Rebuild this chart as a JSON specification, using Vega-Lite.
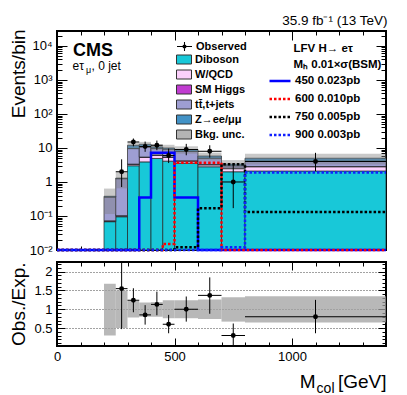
{
  "$schema": "https://vega.github.io/schema/vega-lite/v6.json",
  "autosize": {"type": "none"},
  "padding": {"left": 57, "top": 31, "right": 350, "bottom": 364},
  "bounds": "flush",
  "spacing": 12,
  "config": {
    "font": "Liberation Sans",
    "view": {"stroke": "black", "strokeWidth": 2},
    "axis": {
      "domain": false, "grid": false, "tickColor": "black", "tickWidth": 1,
      "labelFont": "Liberation Sans", "labelFontSize": 13, "labelColor": "black",
      "titleFont": "Liberation Sans", "titleColor": "black", "titleFontWeight": "normal",
      "zindex": 1, "labelFlush": false, "labelOverlap": false
    },
    "legend": {"labelFont": "Liberation Sans", "titleFont": "Liberation Sans", "padding": 0, "labelColor": "black", "titleColor": "black",
      "labelFontSize": 11, "labelFontWeight": "bold"}
  },
  "datasets": {
    "stack": [
      {"xlo": 200, "xhi": 250, "proc": "Diboson", "ylo": 0.001, "yhi": 0.068},
      {"xlo": 250, "xhi": 300, "proc": "Diboson", "ylo": 0.001, "yhi": 0.095},
      {"xlo": 300, "xhi": 350, "proc": "Diboson", "ylo": 0.001, "yhi": 3.0},
      {"xlo": 350, "xhi": 400, "proc": "Diboson", "ylo": 0.001, "yhi": 3.9},
      {"xlo": 400, "xhi": 450, "proc": "Diboson", "ylo": 0.001, "yhi": 4.9},
      {"xlo": 450, "xhi": 500, "proc": "Diboson", "ylo": 0.001, "yhi": 4.1},
      {"xlo": 500, "xhi": 600, "proc": "Diboson", "ylo": 0.001, "yhi": 3.6},
      {"xlo": 600, "xhi": 700, "proc": "Diboson", "ylo": 0.001, "yhi": 2.8},
      {"xlo": 700, "xhi": 800, "proc": "Diboson", "ylo": 0.001, "yhi": 2.0},
      {"xlo": 800, "xhi": 1400, "proc": "Diboson", "ylo": 0.001, "yhi": 2.1},
      {"xlo": 200, "xhi": 250, "proc": "W/QCD", "ylo": 0.068, "yhi": 0.071},
      {"xlo": 250, "xhi": 300, "proc": "W/QCD", "ylo": 0.095, "yhi": 0.1},
      {"xlo": 300, "xhi": 350, "proc": "W/QCD", "ylo": 3.0, "yhi": 3.3},
      {"xlo": 350, "xhi": 400, "proc": "W/QCD", "ylo": 3.9, "yhi": 5.3},
      {"xlo": 400, "xhi": 450, "proc": "W/QCD", "ylo": 4.9, "yhi": 6.1},
      {"xlo": 450, "xhi": 500, "proc": "W/QCD", "ylo": 4.1, "yhi": 5.3},
      {"xlo": 500, "xhi": 600, "proc": "W/QCD", "ylo": 3.6, "yhi": 4.1},
      {"xlo": 600, "xhi": 700, "proc": "W/QCD", "ylo": 2.8, "yhi": 3.2},
      {"xlo": 700, "xhi": 800, "proc": "W/QCD", "ylo": 2.0, "yhi": 2.5},
      {"xlo": 800, "xhi": 1400, "proc": "W/QCD", "ylo": 2.1, "yhi": 2.8},
      {"xlo": 200, "xhi": 250, "proc": "SM Higgs", "ylo": 0.071, "yhi": 0.072},
      {"xlo": 250, "xhi": 300, "proc": "SM Higgs", "ylo": 0.1, "yhi": 0.102},
      {"xlo": 300, "xhi": 350, "proc": "SM Higgs", "ylo": 3.3, "yhi": 3.35},
      {"xlo": 350, "xhi": 400, "proc": "SM Higgs", "ylo": 5.3, "yhi": 5.4},
      {"xlo": 400, "xhi": 450, "proc": "SM Higgs", "ylo": 6.1, "yhi": 6.2},
      {"xlo": 450, "xhi": 500, "proc": "SM Higgs", "ylo": 5.3, "yhi": 5.4},
      {"xlo": 500, "xhi": 600, "proc": "SM Higgs", "ylo": 4.1, "yhi": 4.2},
      {"xlo": 600, "xhi": 700, "proc": "SM Higgs", "ylo": 3.2, "yhi": 3.25},
      {"xlo": 700, "xhi": 800, "proc": "SM Higgs", "ylo": 2.5, "yhi": 2.55},
      {"xlo": 800, "xhi": 1400, "proc": "SM Higgs", "ylo": 2.8, "yhi": 2.85},
      {"xlo": 200, "xhi": 250, "proc": "tt̄,t+jets", "ylo": 0.072, "yhi": 0.36},
      {"xlo": 250, "xhi": 300, "proc": "tt̄,t+jets", "ylo": 0.102, "yhi": 1.25},
      {"xlo": 300, "xhi": 350, "proc": "tt̄,t+jets", "ylo": 3.35, "yhi": 9.6},
      {"xlo": 350, "xhi": 400, "proc": "tt̄,t+jets", "ylo": 5.4, "yhi": 10.8},
      {"xlo": 400, "xhi": 450, "proc": "tt̄,t+jets", "ylo": 6.2, "yhi": 9.8},
      {"xlo": 450, "xhi": 500, "proc": "tt̄,t+jets", "ylo": 5.4, "yhi": 9.2},
      {"xlo": 500, "xhi": 600, "proc": "tt̄,t+jets", "ylo": 4.2, "yhi": 7.9},
      {"xlo": 600, "xhi": 700, "proc": "tt̄,t+jets", "ylo": 3.25, "yhi": 5.0},
      {"xlo": 700, "xhi": 800, "proc": "tt̄,t+jets", "ylo": 2.55, "yhi": 3.0},
      {"xlo": 800, "xhi": 1400, "proc": "tt̄,t+jets", "ylo": 2.85, "yhi": 4.1},
      {"xlo": 200, "xhi": 250, "proc": "Z→ee/μμ", "ylo": 0.36, "yhi": 0.38},
      {"xlo": 250, "xhi": 300, "proc": "Z→ee/μμ", "ylo": 1.25, "yhi": 1.3},
      {"xlo": 300, "xhi": 350, "proc": "Z→ee/μμ", "ylo": 9.6, "yhi": 12.0},
      {"xlo": 350, "xhi": 400, "proc": "Z→ee/μμ", "ylo": 10.8, "yhi": 12.8},
      {"xlo": 400, "xhi": 450, "proc": "Z→ee/μμ", "ylo": 9.8, "yhi": 10.8},
      {"xlo": 450, "xhi": 500, "proc": "Z→ee/μμ", "ylo": 9.2, "yhi": 10.0},
      {"xlo": 500, "xhi": 600, "proc": "Z→ee/μμ", "ylo": 7.9, "yhi": 9.0},
      {"xlo": 600, "xhi": 700, "proc": "Z→ee/μμ", "ylo": 5.0, "yhi": 5.8},
      {"xlo": 700, "xhi": 800, "proc": "Z→ee/μμ", "ylo": 3.0, "yhi": 3.35},
      {"xlo": 800, "xhi": 1400, "proc": "Z→ee/μμ", "ylo": 4.1, "yhi": 5.0}
    ],
    "bins": [
      {"xlo": 200, "xhi": 250, "unclo": 0.114, "unchi": 0.64, "rlo": 0.3, "rhi": 1.68},
      {"xlo": 250, "xhi": 300, "unclo": 0.65, "unchi": 1.95, "rlo": 0.5, "rhi": 1.5},
      {"xlo": 300, "xhi": 350, "unclo": 9.4, "unchi": 14.6, "rlo": 0.78, "rhi": 1.22},
      {"xlo": 350, "xhi": 400, "unclo": 10.2, "unchi": 15.1, "rlo": 0.8, "rhi": 1.18},
      {"xlo": 400, "xhi": 450, "unclo": 8.6, "unchi": 12.9, "rlo": 0.8, "rhi": 1.19},
      {"xlo": 450, "xhi": 500, "unclo": 7.6, "unchi": 12.4, "rlo": 0.76, "rhi": 1.24},
      {"xlo": 500, "xhi": 600, "unclo": 6.8, "unchi": 11.2, "rlo": 0.76, "rhi": 1.24},
      {"xlo": 600, "xhi": 700, "unclo": 4.3, "unchi": 7.3, "rlo": 0.74, "rhi": 1.26},
      {"xlo": 700, "xhi": 800, "unclo": 2.25, "unchi": 4.4, "rlo": 0.67, "rhi": 1.32},
      {"xlo": 800, "xhi": 1400, "unclo": 3.25, "unchi": 6.75, "rlo": 0.65, "rhi": 1.35}
    ],
    "obs": [
      {"x": 275, "xlo": 250, "xhi": 300, "n": 2, "nlo": 0.71, "nhi": 4.64, "r": 1.55, "rlo": 0.47, "rhi": 2.6},
      {"x": 325, "xlo": 300, "xhi": 350, "n": 15, "nlo": 11.2, "nhi": 19.0, "r": 1.24, "rlo": 0.92, "rhi": 1.56},
      {"x": 375, "xlo": 350, "xhi": 400, "n": 11, "nlo": 7.7, "nhi": 15.4, "r": 0.85, "rlo": 0.59, "rhi": 1.11},
      {"x": 425, "xlo": 400, "xhi": 450, "n": 12, "nlo": 8.6, "nhi": 16.5, "r": 1.13, "rlo": 0.84, "rhi": 1.47},
      {"x": 475, "xlo": 450, "xhi": 500, "n": 6, "nlo": 3.6, "nhi": 9.6, "r": 0.6, "rlo": 0.36, "rhi": 0.85},
      {"x": 550, "xlo": 500, "xhi": 600, "n": 9, "nlo": 6.1, "nhi": 13.2, "r": 1.0, "rlo": 0.67, "rhi": 1.34},
      {"x": 650, "xlo": 600, "xhi": 700, "n": 8, "nlo": 5.2, "nhi": 12.0, "r": 1.37, "rlo": 0.88, "rhi": 1.85},
      {"x": 750, "xlo": 700, "xhi": 800, "n": 1, "nlo": 0.17, "nhi": 3.3, "r": 0.3, "rlo": 0.0, "rhi": 0.62},
      {"x": 1100, "xlo": 800, "xhi": 1400, "n": 4, "nlo": 2.1, "nhi": 7.2, "r": 0.8, "rlo": 0.36, "rhi": 1.25}
    ],
    "sig": [
      {"sig": "450", "x": 0, "y": 0.001}, {"sig": "450", "x": 350, "y": 0.35}, {"sig": "450", "x": 400, "y": 7.2},
      {"sig": "450", "x": 500, "y": 0.35}, {"sig": "450", "x": 600, "y": 0.001}, {"sig": "450", "x": 1400, "y": 0.001},
      {"sig": "600", "x": 0, "y": 0.001}, {"sig": "600", "x": 450, "y": 0.015}, {"sig": "600", "x": 500, "y": 3.7},
      {"sig": "600", "x": 700, "y": 0.001}, {"sig": "600", "x": 1400, "y": 0.001},
      {"sig": "750", "x": 0, "y": 0.001}, {"sig": "750", "x": 500, "y": 0.012}, {"sig": "750", "x": 600, "y": 0.17},
      {"sig": "750", "x": 700, "y": 3.3}, {"sig": "750", "x": 800, "y": 0.13}, {"sig": "750", "x": 1400, "y": 0.13},
      {"sig": "900", "x": 0, "y": 0.001}, {"sig": "900", "x": 700, "y": 0.012}, {"sig": "900", "x": 800, "y": 1.9},
      {"sig": "900", "x": 1400, "y": 1.9}
    ]
  },
  "vconcat": [
    {
      "width": 329,
      "height": 219,
      "layer": [
        {
          "data": {"name": "stack"},
          "mark": {"type": "rect", "stroke": "#222222", "strokeWidth": 0.7},
          "encoding": {
            "x": {"field": "xlo", "type": "quantitative", "scale": {"domain": [0, 1400], "nice": false},
              "axis": {"orient": "bottom", "values": [0, 500, 1000], "offset": -9, "tickSize": 9, "labels": false, "title": null}},
            "x2": {"field": "xhi"},
            "y": {"field": "ylo", "type": "quantitative", "scale": {"type": "log", "domain": [0.01, 27500], "nice": false, "clamp": true},
              "axis": {"orient": "left", "values": [0.01, 0.1, 1, 10, 100, 1000, 10000], "offset": -10, "tickSize": 10, "labelPadding": 5,
                "labelExpr": "datum.value < 0.05 ? '10⁻²' : datum.value < 0.5 ? '10⁻¹' : datum.value < 5 ? '1' : datum.value < 50 ? '10' : datum.value < 500 ? '10²' : datum.value < 5000 ? '10³' : '10⁴'",
                "title": "Events/bin", "titleX": -43, "titleY": -2, "titleAngle": -90, "titleAlign": "right", "titleBaseline": "alphabetic", "titleFontSize": 19}},
            "y2": {"field": "yhi"},
            "fill": {"field": "proc", "type": "nominal",
              "scale": {"domain": ["Diboson", "W/QCD", "SM Higgs", "tt̄,t+jets", "Z→ee/μμ", "Bkg. unc."],
                "range": ["#18c8d8", "#fcd0fc", "#c03cd0", "#9e9ed2", "#4292c6", "#b4b4b4"]},
              "legend": {"orient": "none", "legendX": 119, "legendY": 20.5, "title": null, "symbolSize": 225,
                "symbolType": "M-1,-0.6H1V0.6H-1Z", "symbolStrokeColor": "#333333", "symbolStrokeWidth": 1, "symbolOpacity": 1,
                "labelOffset": 3, "rowPadding": -6.5}}
          }
        },
        {
          "data": {"name": "bins"},
          "mark": {"type": "rect", "fill": "#7f7f7f", "fillOpacity": 0.42},
          "encoding": {
            "x": {"field": "xlo", "type": "quantitative", "scale": {"domain": [0, 1400], "nice": false},
              "axis": {"orient": "bottom", "values": [100, 200, 300, 400, 600, 700, 800, 900, 1100, 1200, 1300], "offset": -4, "tickSize": 4, "labels": false,
                "title": "LFV H→ eτ", "titleX": 236, "titleY": -195, "titleAngle": 0, "titleAlign": "left", "titleBaseline": "alphabetic", "titleFontSize": 11.5, "titleFontWeight": "bold"}},
            "x2": {"field": "xhi"},
            "y": {"field": "unclo", "type": "quantitative", "scale": {"type": "log", "domain": [0.01, 27500], "nice": false, "clamp": true},
              "axis": {"orient": "left", "values": [0.02, 0.03, 0.04, 0.05, 0.06, 0.07, 0.08, 0.09, 0.2, 0.3, 0.4, 0.5, 0.6, 0.7, 0.8, 0.9, 2, 3, 4, 5, 6, 7, 8, 9, 20, 30, 40, 50, 60, 70, 80, 90, 200, 300, 400, 500, 600, 700, 800, 900, 2000, 3000, 4000, 5000, 6000, 7000, 8000, 9000, 20000],
                "offset": -5, "tickSize": 5, "labels": false, "title": null}},
            "y2": {"field": "unchi"}
          }
        },
        {
          "data": {"name": "sig"},
          "mark": {"type": "line", "interpolate": "step-after", "strokeWidth": 2.5},
          "encoding": {
            "x": {"field": "x", "type": "quantitative", "scale": {"domain": [0, 1400], "nice": false},
              "axis": {"orient": "top", "values": [0, 500, 1000], "offset": -9, "tickSize": 9, "labels": false,
                "title": "Mₕ   0.01×σ(BSM)", "titleX": 236, "titleY": 27, "titleAngle": 0, "titleAlign": "left", "titleBaseline": "alphabetic", "titleFontSize": 11.5, "titleFontWeight": "bold"}},
            "y": {"field": "y", "type": "quantitative", "scale": {"type": "log", "domain": [0.01, 27500], "nice": false, "clamp": true},
              "axis": {"orient": "right", "values": [0.01, 0.1, 1, 10, 100, 1000, 10000], "offset": -10, "tickSize": 10, "labels": false, "title": null}},
            "stroke": {"field": "sig", "type": "nominal",
              "scale": {"domain": ["450", "600", "750", "900"], "range": ["#0000ff", "#ff0000", "#000000", "#1020ff"]},
              "legend": {"orient": "none", "legendX": 211, "legendY": 38, "title": null,
                "symbolType": "stroke", "symbolSize": 441, "symbolStrokeWidth": 2.5,
                "labelFontSize": 11.5, "labelOffset": 3, "rowPadding": -9,
                "labelExpr": "datum.label + '   ' + (datum.label == '450' ? '0.023pb' : datum.label == '600' ? '0.010pb' : datum.label == '750' ? '0.005pb' : '0.003pb')"}},
            "strokeDash": {"field": "sig", "type": "nominal",
              "scale": {"domain": ["450", "600", "750", "900"], "range": [[1, 0], [2.5, 2], [2.5, 2], [2.5, 2]]}, "legend": null}
          }
        },
        {
          "data": {"name": "obs"},
          "mark": {"type": "rule", "color": "black", "strokeWidth": 1},
          "encoding": {
            "x": {"field": "xlo", "type": "quantitative", "scale": {"domain": [0, 1400], "nice": false},
              "axis": {"orient": "top", "values": [100, 200, 300, 400, 600, 700, 800, 900, 1100, 1200, 1300], "offset": -4, "tickSize": 4, "labels": false,
                "title": "eτ", "titleX": 15, "titleY": 34, "titleAngle": 0, "titleAlign": "left", "titleBaseline": "alphabetic", "titleFontSize": 12}},
            "x2": {"field": "xhi"},
            "y": {"field": "n", "type": "quantitative", "scale": {"type": "log", "domain": [0.01, 27500], "nice": false, "clamp": true},
              "axis": {"orient": "right", "values": [0.02, 0.03, 0.04, 0.05, 0.06, 0.07, 0.08, 0.09, 0.2, 0.3, 0.4, 0.5, 0.6, 0.7, 0.8, 0.9, 2, 3, 4, 5, 6, 7, 8, 9, 20, 30, 40, 50, 60, 70, 80, 90, 200, 300, 400, 500, 600, 700, 800, 900, 2000, 3000, 4000, 5000, 6000, 7000, 8000, 9000, 20000],
                "offset": -5, "tickSize": 5, "labels": false,
                "title": "μ", "titleX": -295.5, "titleY": 41, "titleAngle": 0, "titleAlign": "left", "titleBaseline": "alphabetic", "titleFontSize": 9}}
          }
        },
        {
          "data": {"name": "obs"},
          "mark": {"type": "rule", "color": "black", "strokeWidth": 1},
          "encoding": {
            "x": {"field": "x", "type": "quantitative", "scale": {"domain": [0, 1400], "nice": false},
              "axis": {"orient": "top", "ticks": false, "labels": false,
                "title": ", 0 jet", "titleX": 34, "titleY": 38, "titleAngle": 0, "titleAlign": "left", "titleBaseline": "alphabetic", "titleFontSize": 12}},
            "y": {"field": "nlo", "type": "quantitative", "scale": {"type": "log", "domain": [0.01, 27500], "nice": false, "clamp": true}, "axis": null},
            "y2": {"field": "nhi"}
          }
        },
        {
          "data": {"name": "obs"},
          "mark": {"type": "point", "filled": true, "color": "black", "size": 24, "opacity": 1},
          "encoding": {
            "x": {"field": "x", "type": "quantitative", "scale": {"domain": [0, 1400], "nice": false},
              "axis": {"orient": "top", "ticks": false, "labels": false,
                "title": "35.9 fb⁻¹ (13 TeV)", "titleX": 330, "titleY": -6.5, "titleAngle": 0, "titleAlign": "right", "titleBaseline": "alphabetic", "titleFontSize": 13.5}},
            "y": {"field": "n", "type": "quantitative", "scale": {"type": "log", "domain": [0.01, 27500], "nice": false, "clamp": true},
              "axis": {"orient": "left", "ticks": false, "labels": false,
                "title": "CMS", "titleX": 15.5, "titleY": 24, "titleAngle": 0, "titleAlign": "left", "titleBaseline": "alphabetic", "titleFontSize": 18, "titleFontWeight": "bold"}}
          }
        },
        {
          "data": {"name": "obs"},
          "mark": {"type": "point", "filled": true, "color": "black", "size": 24, "opacity": 0},
          "encoding": {
            "x": {"field": "x", "type": "quantitative", "scale": {"domain": [0, 1400], "nice": false}, "axis": null},
            "y": {"field": "n", "type": "quantitative", "scale": {"type": "log", "domain": [0.01, 27500], "nice": false, "clamp": true}, "axis": null},
            "shape": {"datum": "Observed", "type": "nominal",
              "scale": {"domain": ["Observed"], "range": ["M-1,-0.07H1V0.07H-1Z M-0.07,-0.6H0.07V0.6H-0.07Z M-0.27,0A0.27,0.27,0,1,1,0.27,0A0.27,0.27,0,1,1,-0.27,0Z"]},
              "legend": {"orient": "none", "legendX": 119, "legendY": 7, "title": null, "symbolSize": 225, "symbolOpacity": 1,
                "symbolFillColor": "black", "labelOffset": 3}}
          }
        }
      ],
      "resolve": {"axis": {"x": "independent", "y": "independent"}}
    },
    {
      "width": 329,
      "height": 84,
      "layer": [
        {
          "data": {"name": "bins"},
          "mark": {"type": "rect", "fill": "#a0a0a0", "fillOpacity": 0.75},
          "encoding": {
            "x": {"field": "xlo", "type": "quantitative", "scale": {"domain": [0, 1400], "nice": false},
              "axis": {"orient": "bottom", "values": [0, 500, 1000], "offset": -8, "tickSize": 8, "labelPadding": 4, "labelExpr": "datum.value + ''", "title": null}},
            "x2": {"field": "xhi"},
            "y": {"field": "rlo", "type": "quantitative", "scale": {"domain": [0.02, 2.26], "nice": false, "zero": false},
              "axis": {"orient": "left", "values": [0.5, 1, 1.5, 2], "offset": -8, "tickSize": 8, "labelPadding": 5, "labelExpr": "datum.value + ''",
                "grid": true, "gridDash": [1, 2], "gridColor": "#444444", "gridWidth": 1,
                "title": "Obs./Exp.", "titleX": -41, "titleY": 0, "titleAngle": -90, "titleAlign": "right", "titleBaseline": "alphabetic", "titleFontSize": 19}},
            "y2": {"field": "rhi"}
          }
        },
        {
          "data": {"name": "obs"},
          "mark": {"type": "rule", "color": "black", "strokeWidth": 1},
          "encoding": {
            "x": {"field": "xlo", "type": "quantitative", "scale": {"domain": [0, 1400], "nice": false},
              "axis": {"orient": "bottom", "values": [100, 200, 300, 400, 600, 700, 800, 900, 1100, 1200, 1300], "offset": -4, "tickSize": 4, "labels": false,
                "title": "M", "titleX": 258, "titleY": 45.5, "titleAngle": 0, "titleAlign": "right", "titleBaseline": "alphabetic", "titleFontSize": 19}},
            "x2": {"field": "xhi"},
            "y": {"field": "r", "type": "quantitative", "scale": {"domain": [0.02, 2.26], "nice": false, "zero": false},
              "axis": {"orient": "left", "values": [0.1, 0.2, 0.3, 0.4, 0.6, 0.7, 0.8, 0.9, 1.1, 1.2, 1.3, 1.4, 1.6, 1.7, 1.8, 1.9, 2.1, 2.2],
                "offset": -4, "tickSize": 4, "labels": false, "title": null}}
          }
        },
        {
          "data": {"name": "obs"},
          "mark": {"type": "rule", "color": "black", "strokeWidth": 1, "clip": true},
          "encoding": {
            "x": {"field": "x", "type": "quantitative", "scale": {"domain": [0, 1400], "nice": false},
              "axis": {"orient": "top", "values": [0, 500, 1000], "offset": -8, "tickSize": 8, "labels": false,
                "title": "col", "titleX": 277, "titleY": 122.5, "titleAngle": 0, "titleAlign": "right", "titleBaseline": "alphabetic", "titleFontSize": 14}},
            "y": {"field": "rlo", "type": "quantitative", "scale": {"domain": [0.02, 2.26], "nice": false, "zero": false},
              "axis": {"orient": "right", "values": [0.5, 1, 1.5, 2], "offset": -8, "tickSize": 8, "labels": false, "title": null}},
            "y2": {"field": "rhi"}
          }
        },
        {
          "data": {"name": "obs"},
          "mark": {"type": "point", "filled": true, "color": "black", "size": 24, "opacity": 1},
          "encoding": {
            "x": {"field": "x", "type": "quantitative", "scale": {"domain": [0, 1400], "nice": false},
              "axis": {"orient": "top", "values": [100, 200, 300, 400, 600, 700, 800, 900, 1100, 1200, 1300], "offset": -4, "tickSize": 4, "labels": false,
                "title": "[GeV]", "titleX": 329, "titleY": 121.5, "titleAngle": 0, "titleAlign": "right", "titleBaseline": "alphabetic", "titleFontSize": 19}},
            "y": {"field": "r", "type": "quantitative", "scale": {"domain": [0.02, 2.26], "nice": false, "zero": false},
              "axis": {"orient": "right", "values": [0.1, 0.2, 0.3, 0.4, 0.6, 0.7, 0.8, 0.9, 1.1, 1.2, 1.3, 1.4, 1.6, 1.7, 1.8, 1.9, 2.1, 2.2],
                "offset": -4, "tickSize": 4, "labels": false, "title": null}}
          }
        }
      ],
      "resolve": {"axis": {"x": "independent", "y": "independent"}}
    }
  ]
}
